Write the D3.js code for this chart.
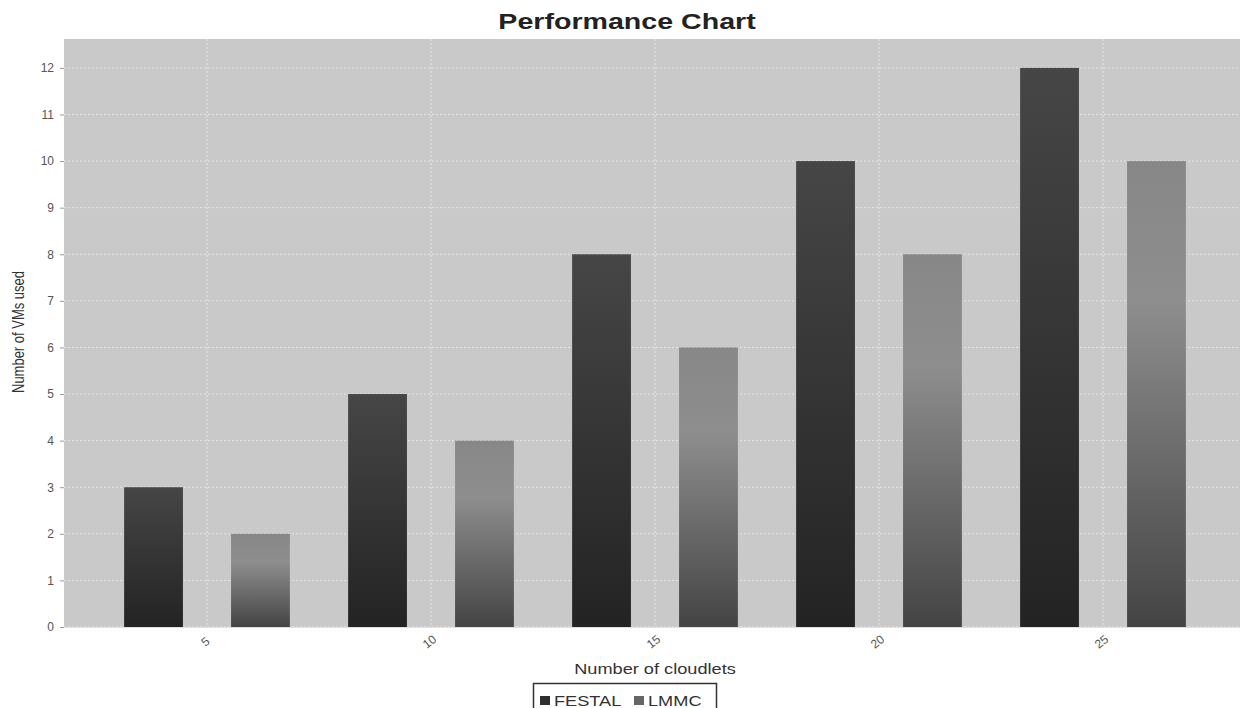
<!DOCTYPE html>
<html><head><meta charset="utf-8">
<script src="https://cdn.jsdelivr.net/npm/d3@7"></script>
<style>body{margin:0;background:#fff}svg{display:block}</style>
</head><body>
<svg id="c" width="1243" height="708"></svg>
<script>
const categories = ["5", "10", "15", "20", "25"];
const seriesNames = ["FESTAL", "LMMC"];
const festal = [3, 5, 8, 10, 12];
const lmmc = [2, 4, 6, 8, 10];
const yTicks = [0,1,2,3,4,5,6,7,8,9,10,11,12];

const FONT = "Liberation Sans, Arial, sans-serif";
const svg = d3.select("#c");
const W = 1243, H = 708;
const m = {left: 64, right: 3, top: 39, bottom: 81};
const x = d3.scaleBand().domain(categories).range([m.left + 3, W - m.right + 3]).paddingInner(0).paddingOuter(0.125);
const xs = d3.scaleBand().domain(seriesNames).range([0, x.bandwidth()*0.74]).paddingInner(0.45).paddingOuter(0);
const y = d3.scaleLinear().domain([0, 12.62]).range([H - m.bottom, m.top]);

function stretchedText(px, py, str, size, opts = {}) {
  const g = svg.append("g").attr("transform", `translate(${px},${py}) ${opts.rotate ? `rotate(${opts.rotate})` : ""} scale(${opts.sx || 1.3},${opts.sy || 1})`);
  return g.append("text").attr("x", 0).attr("y", 0)
    .attr("text-anchor", opts.anchor || "middle")
    .attr("font-family", FONT).attr("font-size", size)
    .attr("font-weight", opts.bold ? "bold" : "normal")
    .attr("fill", opts.fill || "#333").text(str);
}

const defs = svg.append("defs");
const g1 = defs.append("linearGradient").attr("id","gF").attr("x1",0).attr("y1",0).attr("x2",0).attr("y2",1);
g1.append("stop").attr("offset","0%").attr("stop-color","#464646");
g1.append("stop").attr("offset","100%").attr("stop-color","#232323");
const g2 = defs.append("linearGradient").attr("id","gL").attr("x1",0).attr("y1",0).attr("x2",0).attr("y2",1);
g2.append("stop").attr("offset","0%").attr("stop-color","#878787");
g2.append("stop").attr("offset","30%").attr("stop-color","#8e8e8e");
g2.append("stop").attr("offset","100%").attr("stop-color","#444444");

// plot background
svg.append("rect").attr("x", m.left).attr("y", m.top).attr("width", W - m.left - m.right).attr("height", H - m.bottom - m.top).attr("fill", "#c9c9c9");

// gridlines
svg.append("g").selectAll("line").data(yTicks).join("line")
  .attr("x1", m.left).attr("x2", W - m.right).attr("y1", d => y(d)).attr("y2", d => y(d))
  .attr("stroke", "#e6e6e6").attr("stroke-width", 1).attr("stroke-dasharray", "2,2");
svg.append("g").selectAll("line").data(categories).join("line")
  .attr("x1", d => x(d) + x.bandwidth()/2).attr("x2", d => x(d) + x.bandwidth()/2)
  .attr("y1", m.top).attr("y2", H - m.bottom)
  .attr("stroke", "#e6e6e6").attr("stroke-width", 1).attr("stroke-dasharray", "2,2");

// bars
const off = x.bandwidth()*0.13;
const data = [{name:"FESTAL", vals:festal, fill:"url(#gF)"}, {name:"LMMC", vals:lmmc, fill:"url(#gL)"}];
data.forEach(s => {
  svg.append("g").selectAll("rect").data(s.vals).join("rect")
    .attr("x", (d,i) => x(categories[i]) + off + xs(s.name))
    .attr("width", xs.bandwidth())
    .attr("y", d => y(d))
    .attr("height", d => y(0) - y(d))
    .attr("fill", s.fill);
});

// y axis
const ya = svg.append("g").attr("transform", `translate(${m.left},0)`)
  .call(d3.axisLeft(y).tickValues(yTicks).tickSize(4).tickPadding(6));
ya.select(".domain").remove();
ya.selectAll(".tick line").attr("stroke", "#999");
ya.selectAll("text").attr("font-family", FONT).attr("font-size", 12).attr("fill", "#555");

// x axis line
svg.append("line").attr("x1", m.left).attr("x2", W - m.right).attr("y1", y(0)+0.5).attr("y2", y(0)+0.5).attr("stroke", "#e0e0e0");
const xa = svg.append("g").attr("transform", `translate(0,${H - m.bottom})`)
  .call(d3.axisBottom(x).tickSize(0).tickPadding(0));
xa.select(".domain").remove();
xa.selectAll("text")
  .attr("font-family", FONT).attr("font-size", 12).attr("fill", "#555")
  .attr("text-anchor", "middle").attr("dy", 0).attr("y", 0)
  .attr("transform", "translate(1,18) rotate(-38)");

// title
stretchedText(627, 29, "Performance Chart", 22, {bold: true, fill: "#222", sx: 1.3});

// axis titles
stretchedText(24, 332, "Number of VMs used", 13, {rotate: -90, sx: 1, sy: 1.25, fill: "#333"});
stretchedText(655, 674, "Number of cloudlets", 14, {fill: "#333", sx: 1.3});

// legend
const lg = svg.append("g");
lg.append("rect").attr("x", 533.5).attr("y", 683.5).attr("width", 183).attr("height", 30).attr("fill", "#fff").attr("stroke", "#333").attr("stroke-width", 1.5);
const legItems = [{name: seriesNames[0], color:"#2e2e2e", x: 540}, {name: seriesNames[1], color:"#666666", x: 634}];
legItems.forEach(it => {
  lg.append("rect").attr("x", it.x).attr("y", 696).attr("width", 10).attr("height", 9).attr("fill", it.color);
  stretchedText(it.x + 14, 706, it.name, 14, {anchor: "start", sx: 1.3, fill: "#333"});
});
</script>
</body></html>
